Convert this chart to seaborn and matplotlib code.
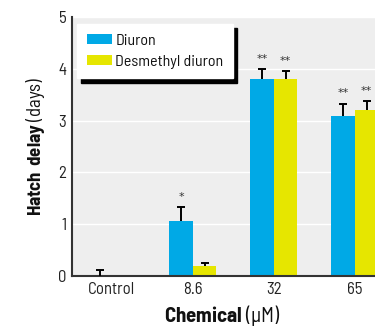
import matplotlib
matplotlib.use("Agg")
import matplotlib.pyplot as plt
import seaborn as sns
import pandas as pd
import numpy as np

categories = ["Control", "8.6", "32", "65"]
diuron = [0.0, 1.06, 3.81, 3.09]
diuron_err = [0.11, 0.27, 0.19, 0.24]
desmethyl = [0.0, 0.19, 3.81, 3.21]
desmethyl_err = [0.0, 0.06, 0.14, 0.17]
diuron_marks = ["", "*", "**", "**"]
desmethyl_marks = ["", "", "**", "**"]
series_names = ["Diuron", "Desmethyl diuron"]
colors = ["#00A9E6", "#E6E600"]

sns.set_theme(style="whitegrid")
narrow = "Barlow Semi Condensed"
plt.rcParams['font.family'] = [narrow, 'DejaVu Sans']
plt.rcParams['mathtext.fontset'] = 'custom'
plt.rcParams['mathtext.rm'] = narrow
plt.rcParams['mathtext.bf'] = narrow + ':bold'

df = pd.DataFrame({
    "Chemical": categories * 2,
    "Series": [series_names[0]] * 4 + [series_names[1]] * 4,
    "Value": diuron + desmethyl,
})

fig = plt.figure(figsize=(3.75, 3.29), dpi=100)
ax = fig.add_axes([72/375, 53/329, 308/375, 259/329])
ax.set_facecolor("#EEEEEE")

sns.barplot(data=df, x="Chemical", y="Value", hue="Series", palette=colors,
            width=0.58, errorbar=None, saturation=1, ax=ax, zorder=2,
            linewidth=0)

errs = [diuron_err, desmethyl_err]
marks = [diuron_marks, desmethyl_marks]
vals = [diuron, desmethyl]
bar_conts = list(ax.containers)
for si, cont in enumerate(bar_conts):
    for i, p in enumerate(cont.patches):
        cx = p.get_x() + p.get_width() / 2
        e = errs[si][i]
        v = vals[si][i]
        if e > 0:
            _, caps, _ = ax.errorbar(cx, v, yerr=[[0], [e]], fmt="none", ecolor="black",
                                     elinewidth=1.4, capsize=3.2, capthick=1.4, zorder=3)
            for c in caps:
                if np.allclose(c.get_ydata(), v):
                    c.set_visible(False)
        if marks[si][i]:
            ax.text(cx, v + e + 0.1, marks[si][i], ha="center", va="bottom",
                    fontsize=8, color="#333333", family="DejaVu Sans")

ax.set_xlim(-0.49, 3.31)
ax.set_ylim(0, 5)
ax.set_yticks([0, 1, 2, 3, 4, 5])
ax.grid(axis="y", color="white", linewidth=1.0, zorder=0)
ax.grid(axis="x", visible=False)
ax.set_axisbelow(True)
for s in ["top", "right"]:
    ax.spines[s].set_visible(False)
for s in ["left", "bottom"]:
    ax.spines[s].set_visible(True)
    ax.spines[s].set_color("#333333")
    ax.spines[s].set_linewidth(1.5)
ax.tick_params(axis="both", length=0, labelsize=12, colors="#222222", pad=4)

ax.set_ylabel(r"$\mathbf{Hatch\ delay}$ (days)", fontsize=13.5, color="#111111", labelpad=8)
ax.set_xlabel(r"$\mathbf{Chemical}$ (μM)", fontsize=15, color="#111111", labelpad=6)
ax.xaxis.set_label_coords((222 - 72) / 308, -0.105)

leg = ax.legend(loc="upper left", bbox_to_anchor=(0.016, 0.973), borderaxespad=0,
                fancybox=False, shadow={"color": "black", "alpha": 1, "ox": 3, "oy": -3},
                framealpha=1, edgecolor="white", facecolor="white", fontsize=11.5,
                handlelength=1.6, handleheight=0.6, handletextpad=0.2,
                labelspacing=0.45, borderpad=0.6, title=None)
for t in leg.get_texts():
    t.set_color("#111111")

fig.savefig("out.png", dpi=100)
